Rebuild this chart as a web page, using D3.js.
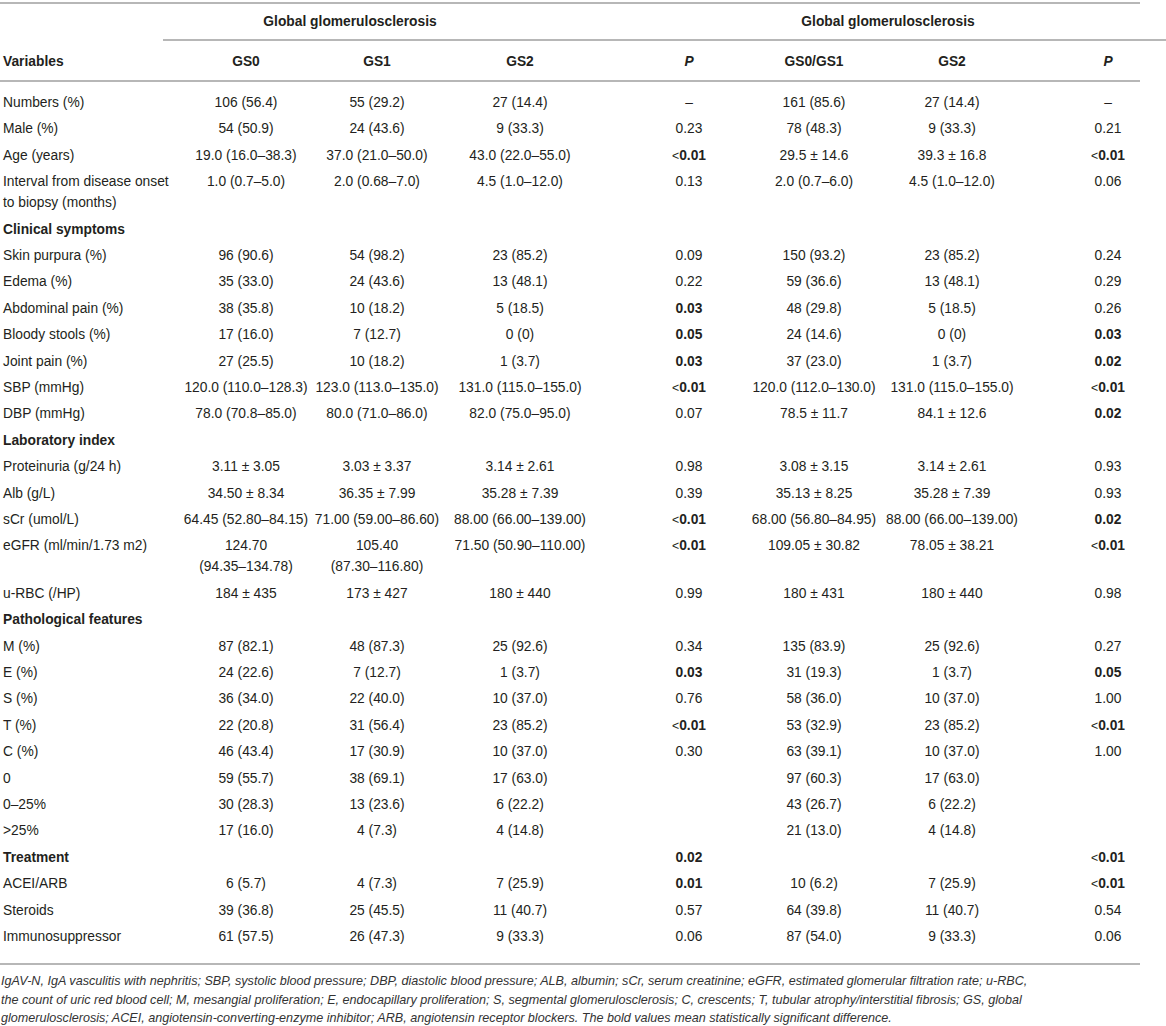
<!DOCTYPE html>
<html>
<head>
<meta charset="utf-8">
<script src="https://cdn.jsdelivr.net/npm/d3@7"></script>
<style>
  html, body { margin: 0; padding: 0; background: #fff; }
  svg { display: block; font-family: "Liberation Sans", Arial, sans-serif; }
</style>
</head>
<body>
<div id="chart"></div>
<script>
// table contents
const groupTitles = ["Global glomerulosclerosis", "Global glomerulosclerosis"];
const headers = ["Variables", "GS0", "GS1", "GS2", "P", "GS0/GS1", "GS2", "P"];

// section rows have no values; "\n" marks where the cell wraps
const variables = [
  "Numbers (%)", "Male (%)", "Age (years)", "Interval from disease onset\nto biopsy (months)",
  "Clinical symptoms", "Skin purpura (%)", "Edema (%)", "Abdominal pain (%)", "Bloody stools (%)",
  "Joint pain (%)", "SBP (mmHg)", "DBP (mmHg)",
  "Laboratory index", "Proteinuria (g/24 h)", "Alb (g/L)", "sCr (umol/L)", "eGFR (ml/min/1.73 m2)", "u-RBC (/HP)",
  "Pathological features", "M (%)", "E (%)", "S (%)", "T (%)", "C (%)", "0", "0–25%", ">25%",
  "Treatment", "ACEI/ARB", "Steroids", "Immunosuppressor"
];
const sections = ["Clinical symptoms", "Laboratory index", "Pathological features", "Treatment"];

const gs0 = ["106 (56.4)", "54 (50.9)", "19.0 (16.0–38.3)", "1.0 (0.7–5.0)",
  "", "96 (90.6)", "35 (33.0)", "38 (35.8)", "17 (16.0)", "27 (25.5)", "120.0 (110.0–128.3)", "78.0 (70.8–85.0)",
  "", "3.11 ± 3.05", "34.50 ± 8.34", "64.45 (52.80–84.15)", "124.70\n(94.35–134.78)", "184 ± 435",
  "", "87 (82.1)", "24 (22.6)", "36 (34.0)", "22 (20.8)", "46 (43.4)", "59 (55.7)", "30 (28.3)", "17 (16.0)",
  "", "6 (5.7)", "39 (36.8)", "61 (57.5)"];
const gs1 = ["55 (29.2)", "24 (43.6)", "37.0 (21.0–50.0)", "2.0 (0.68–7.0)",
  "", "54 (98.2)", "24 (43.6)", "10 (18.2)", "7 (12.7)", "10 (18.2)", "123.0 (113.0–135.0)", "80.0 (71.0–86.0)",
  "", "3.03 ± 3.37", "36.35 ± 7.99", "71.00 (59.00–86.60)", "105.40\n(87.30–116.80)", "173 ± 427",
  "", "48 (87.3)", "7 (12.7)", "22 (40.0)", "31 (56.4)", "17 (30.9)", "38 (69.1)", "13 (23.6)", "4 (7.3)",
  "", "4 (7.3)", "25 (45.5)", "26 (47.3)"];
const gs2 = ["27 (14.4)", "9 (33.3)", "43.0 (22.0–55.0)", "4.5 (1.0–12.0)",
  "", "23 (85.2)", "13 (48.1)", "5 (18.5)", "0 (0)", "1 (3.7)", "131.0 (115.0–155.0)", "82.0 (75.0–95.0)",
  "", "3.14 ± 2.61", "35.28 ± 7.39", "88.00 (66.00–139.00)", "71.50 (50.90–110.00)", "180 ± 440",
  "", "25 (92.6)", "1 (3.7)", "10 (37.0)", "23 (85.2)", "10 (37.0)", "17 (63.0)", "6 (22.2)", "4 (14.8)",
  "", "7 (25.9)", "11 (40.7)", "9 (33.3)"];
const pA = ["–", "0.23", "<0.01", "0.13",
  "", "0.09", "0.22", "0.03", "0.05", "0.03", "<0.01", "0.07",
  "", "0.98", "0.39", "<0.01", "<0.01", "0.99",
  "", "0.34", "0.03", "0.76", "<0.01", "0.30", "", "", "",
  "0.02", "0.01", "0.57", "0.06"];
const gs01 = ["161 (85.6)", "78 (48.3)", "29.5 ± 14.6", "2.0 (0.7–6.0)",
  "", "150 (93.2)", "59 (36.6)", "48 (29.8)", "24 (14.6)", "37 (23.0)", "120.0 (112.0–130.0)", "78.5 ± 11.7",
  "", "3.08 ± 3.15", "35.13 ± 8.25", "68.00 (56.80–84.95)", "109.05 ± 30.82", "180 ± 431",
  "", "135 (83.9)", "31 (19.3)", "58 (36.0)", "53 (32.9)", "63 (39.1)", "97 (60.3)", "43 (26.7)", "21 (13.0)",
  "", "10 (6.2)", "64 (39.8)", "87 (54.0)"];
const gs2b = ["27 (14.4)", "9 (33.3)", "39.3 ± 16.8", "4.5 (1.0–12.0)",
  "", "23 (85.2)", "13 (48.1)", "5 (18.5)", "0 (0)", "1 (3.7)", "131.0 (115.0–155.0)", "84.1 ± 12.6",
  "", "3.14 ± 2.61", "35.28 ± 7.39", "88.00 (66.00–139.00)", "78.05 ± 38.21", "180 ± 440",
  "", "25 (92.6)", "1 (3.7)", "10 (37.0)", "23 (85.2)", "10 (37.0)", "17 (63.0)", "6 (22.2)", "4 (14.8)",
  "", "7 (25.9)", "11 (40.7)", "9 (33.3)"];
const pB = ["–", "0.21", "<0.01", "0.06",
  "", "0.24", "0.29", "0.26", "0.03", "0.02", "<0.01", "0.02",
  "", "0.93", "0.93", "0.02", "<0.01", "0.98",
  "", "0.27", "0.05", "1.00", "<0.01", "1.00", "", "", "",
  "<0.01", "<0.01", "0.54", "0.06"];

const footnote = [
  "IgAV-N, IgA vasculitis with nephritis; SBP, systolic blood pressure; DBP, diastolic blood pressure; ALB, albumin; sCr, serum creatinine; eGFR, estimated glomerular filtration rate; u-RBC,",
  "the count of uric red blood cell; M, mesangial proliferation; E, endocapillary proliferation; S, segmental glomerulosclerosis; C, crescents; T, tubular atrophy/interstitial fibrosis; GS, global",
  "glomerulosclerosis; ACEI, angiotensin-converting-enzyme inhibitor; ARB, angiotensin receptor blockers. The bold values mean statistically significant difference."
];

// layout
const width = 1166, height = 1026;
const tableRight = 1140, groupLeft = 163;
const fontSize = 13.8, rowStep = 26.4, wrapStep = 21;
const textColor = "#231f20", ruleColor = "#b7b7b7";

const svg = d3.select("#chart").append("svg")
  .attr("width", width).attr("height", height)
  .attr("viewBox", `0 0 ${width} ${height}`);

const colKeys = ["var", "gs0", "gs1", "gs2", "pA", "gs01", "gs2b", "pB"];
const x = d3.scaleOrdinal()
  .domain(colKeys)
  .range([3, 246, 377, 520, 689, 814, 952, 1108]);

// each row's offset = rows before it + extra wrapped lines before it
const lineCount = variables.map((v, i) =>
  d3.max([v, gs0[i], gs1[i], gs2[i], gs01[i], gs2b[i]], s => s.split("\n").length));
const offsets = [];
let acc = 0;
lineCount.forEach((n, i) => { offsets.push(i * rowStep + acc); acc += (n - 1) * wrapStep; });
const y = d3.scaleLinear().domain([0, 1]).range([107, 108]);   // first baseline, 1px per unit

const rules = svg.append("g").attr("stroke", ruleColor).attr("stroke-width", 1.8);
rules.append("line").attr("x1", 0).attr("x2", tableRight).attr("y1", 3).attr("y2", 3);
rules.append("line").attr("x1", groupLeft).attr("x2", width).attr("y1", 40).attr("y2", 40);
rules.append("line").attr("x1", 0).attr("x2", tableRight).attr("y1", 81).attr("y2", 81);
const lastY = y(offsets[offsets.length - 1]);
rules.append("line").attr("x1", 0).attr("x2", tableRight).attr("y1", 964).attr("y2", 964);

const text = svg.append("g").attr("fill", textColor).style("font-size", fontSize + "px");

// group titles
text.selectAll("text.group")
  .data(groupTitles)
  .join("text")
    .attr("class", "group")
    .attr("x", (d, i) => i === 0 ? 350 : 888)
    .attr("y", 26)
    .attr("text-anchor", "middle")
    .attr("font-weight", "bold")
    .text(d => d);

// column headers
text.selectAll("text.head")
  .data(headers)
  .join("text")
    .attr("class", "head")
    .attr("x", (d, i) => x(colKeys[i]))
    .attr("y", 66)
    .attr("text-anchor", (d, i) => i === 0 ? "start" : "middle")
    .attr("font-weight", "bold")
    .attr("font-style", d => d === "P" ? "italic" : null)
    .text(d => d);

// body
const isSig = s => s === "<0.01" || (+s > 0 && +s <= 0.05);
const columns = [variables, gs0, gs1, gs2, pA, gs01, gs2b, pB];

columns.forEach((col, c) => {
  const cells = text.append("g")
    .selectAll("text")
    .data(col.map((s, i) => ({s, i})).filter(d => d.s !== ""))
    .join("text")
      .attr("x", x(colKeys[c]))
      .attr("y", d => y(offsets[d.i]))
      .attr("text-anchor", c === 0 ? "start" : "middle")
      .attr("font-weight", d => (c === 0 && sections.includes(d.s)) ? "bold" : null);

  cells.each(function(d) {
    const el = d3.select(this);
    if ((c === 4 || c === 7) && isSig(d.s)) {
      if (d.s.startsWith("<")) {
        el.append("tspan").style("font-size", (fontSize - 1.5) + "px").text("<");
        el.append("tspan").attr("font-weight", "bold").text(d.s.slice(1));
      } else {
        el.attr("font-weight", "bold").text(d.s);
      }
      return;
    }
    d.s.split("\n").forEach((line, k) => {
      el.append("tspan")
        .attr("x", x(colKeys[c]))
        .attr("dy", k === 0 ? 0 : wrapStep)
        .text(line);
    });
  });
});

// footnote
svg.append("g")
  .attr("fill", "#333")
  .style("font-size", "12.6px")
  .style("font-style", "italic")
  .selectAll("text")
  .data(footnote)
  .join("text")
    .attr("x", 1)
    .attr("y", (d, i) => 985 + i * 18.5)
    .text(d => d);
</script>
</body>
</html>
